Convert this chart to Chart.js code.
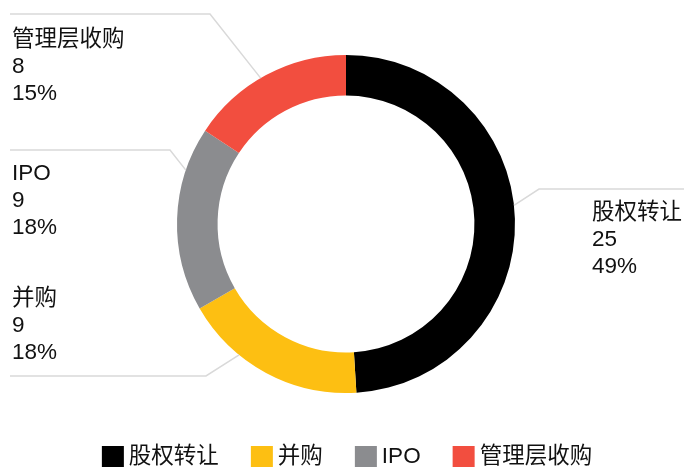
<!DOCTYPE html>
<html>
<head>
<meta charset="utf-8">
<script src="https://cdn.jsdelivr.net/npm/chart.js@4"></script>
<style>
html,body{margin:0;padding:0;background:#fff;}
#wrap{width:684px;height:468px;position:relative;}
</style>
</head>
<body>
<div id="wrap"><canvas id="c" width="684" height="468"></canvas></div>
<script>
const categories = ['股权转让', '并购', 'IPO', '管理层收购'];
const counts = [25, 9, 9, 8];
const percentLabels = ['49%', '18%', '18%', '15%'];
const colors = ['#000000', '#FDBF12', '#8B8C8F', '#F24E3F'];

const FONT = '22.5px "Liberation Sans", "Noto Sans CJK SC", sans-serif';

// label layout: anchor fraction along slice, elbow point, line end, text position
const labelLayout = [
  { f: 0.474, elbow: [539, 189], end: [684, 189], tx: 592, ty: 213, align: 'left' },
  { f: 0.673, elbow: [206, 376], end: [10, 376], tx: 12, ty: 299, align: 'left' },
  { f: 0.765, elbow: [170, 150], end: [10, 150], tx: 12, ty: 174, align: 'left' },
  { f: 0.463, elbow: [210, 14], end: [10, 14], tx: 12, ty: 40, align: 'left' }
];

const labelPlugin = {
  id: 'outerLabels',
  afterDatasetsDraw(chart) {
    const ctx = chart.ctx;
    const meta = chart.getDatasetMeta(0);
    ctx.save();
    meta.data.forEach((arc, i) => {
      const L = labelLayout[i];
      const p = arc.getProps(['x', 'y', 'startAngle', 'endAngle', 'outerRadius'], true);
      const a = p.startAngle + L.f * (p.endAngle - p.startAngle);
      const ax = p.x + Math.cos(a) * p.outerRadius;
      const ay = p.y + Math.sin(a) * p.outerRadius;
      ctx.strokeStyle = '#d9d9d9';
      ctx.lineWidth = 1.5;
      ctx.beginPath();
      ctx.moveTo(ax, ay);
      ctx.lineTo(L.elbow[0], L.elbow[1]);
      ctx.lineTo(L.end[0], L.end[1]);
      ctx.stroke();
      ctx.fillStyle = '#111';
      ctx.font = FONT;
      ctx.textAlign = L.align;
      ctx.textBaseline = 'middle';
      const lines = [categories[i], String(counts[i]), percentLabels[i]];
      lines.forEach((t, k) => ctx.fillText(t, L.tx, L.ty + k * 27));
    });
    // legend
    ctx.font = FONT;
    const box = 22, gap = 5, itemGap = 32;
    let widths = categories.map(c => ctx.measureText(c).width);
    let total = widths.reduce((s, w) => s + box + gap + w, 0) + itemGap * (categories.length - 1);
    let x = 347 - total / 2;
    const cy = 456.5;
    categories.forEach((c, i) => {
      ctx.fillStyle = colors[i];
      ctx.fillRect(x, cy - 10.5, box, 21);
      ctx.fillStyle = '#111';
      ctx.textAlign = 'left';
      ctx.textBaseline = 'middle';
      ctx.fillText(c, x + box + gap, cy);
      x += box + gap + widths[i] + itemGap;
    });
    ctx.restore();
  }
};

new Chart(document.getElementById('c'), {
  type: 'doughnut',
  data: {
    labels: categories,
    datasets: [{
      data: counts,
      backgroundColor: colors,
      borderWidth: 0,
      hoverOffset: 0
    }]
  },
  options: {
    responsive: false,
    animation: false,
    cutout: '76%',
    layout: { padding: { top: 55, bottom: 75, left: 8, right: 0 } },
    plugins: { legend: { display: false }, tooltip: { enabled: false } }
  },
  plugins: [labelPlugin]
});
</script>
</body>
</html>
